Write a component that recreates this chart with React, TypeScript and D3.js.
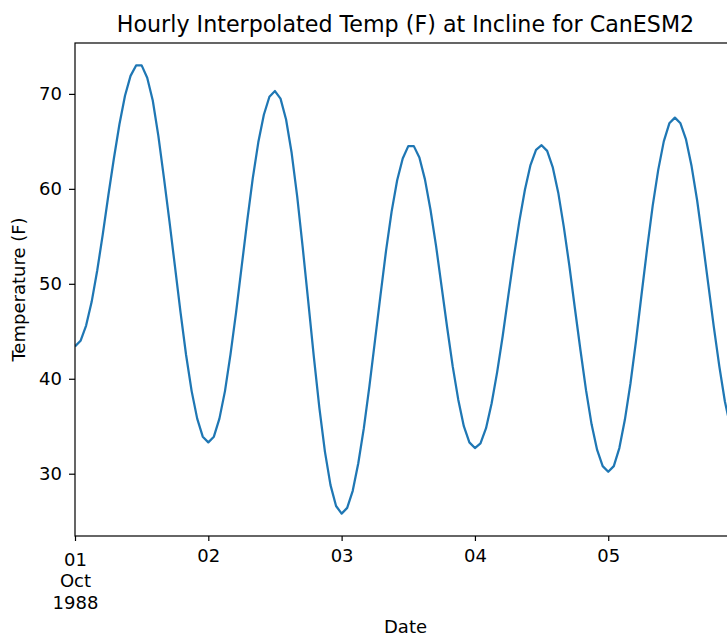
import * as d3 from "d3";
import React, { useEffect, useRef } from "react";

// hourly temps, 1988-10-01 00:00 onward (UTC)
const startTime = Date.UTC(1988, 9, 1, 0);
const hourlyTemp = [
  43.4, 44.0, 45.6, 48.1, 51.4, 55.2, 59.3, 63.2, 66.8, 69.8, 71.9, 73.0,
  73.0, 71.7, 69.3, 65.6, 61.2, 56.6, 51.8, 47.0, 42.5, 38.7, 35.8, 33.9,
  33.3, 33.9, 35.8, 38.7, 42.6, 47.0, 51.8, 56.6, 61.1, 64.9, 67.8, 69.7,
  70.3, 69.5, 67.3, 63.8, 59.2, 53.8, 48.1, 42.3, 36.9, 32.3, 28.8, 26.6,
  25.8, 26.4, 28.2, 31.1, 34.8, 39.2, 44.0, 48.8, 53.5, 57.6, 60.9, 63.2,
  64.5, 64.5, 63.3, 61.0, 57.8, 54.0, 49.7, 45.4, 41.3, 37.8, 35.0, 33.3,
  32.7, 33.2, 34.8, 37.4, 40.7, 44.5, 48.7, 52.8, 56.6, 59.9, 62.5, 64.1,
  64.6, 64.0, 62.3, 59.6, 56.0, 51.9, 47.4, 43.0, 38.8, 35.2, 32.5, 30.8,
  30.2, 30.8, 32.7, 35.7, 39.5, 44.0, 48.9, 53.7, 58.2, 62.0, 65.0, 66.9,
  67.5, 66.9, 65.2, 62.4, 58.8, 54.5, 50.0, 45.5, 41.3, 37.6, 34.9, 33.1,
];
const yTicks = [30, 40, 50, 60, 70];
const xTickDays = [1, 2, 3, 4, 5];
const xTickLabels = [["01", "Oct", "1988"], ["02"], ["03"], ["04"], ["05"]];

const title = "Hourly Interpolated Temp (F) at Incline for CanESM2";
const xLabel = "Date";
const yLabel = "Temperature (F)";

const W = 727, H = 636;
const FONT = "DejaVu Sans, sans-serif";

const App: React.FC = () => {
  const svgRef = useRef<SVGSVGElement>(null);

  useEffect(() => {
    if (!svgRef.current) return;
    const svg = d3.select(svgRef.current);
    svg.selectAll("*").remove();

    // axes box (right edge runs past the window like in the picture)
    const left = 75, right = 736, top = 43, bottom = 536;

    const times = hourlyTemp.map((_, i) => new Date(startTime + i * 3600 * 1000));
    const x = d3.scaleUtc()
      .domain(d3.extent(times) as [Date, Date])
      .range([left, right]);

    // matplotlib style 5% padding
    const [lo, hi] = d3.extent(hourlyTemp) as [number, number];
    const pad = (hi - lo) * 0.05;
    const y = d3.scaleLinear().domain([lo - pad, hi + pad]).range([bottom, top]);

    svg.append("defs").append("clipPath").attr("id", "plotclip")
      .append("rect")
      .attr("x", left).attr("y", top)
      .attr("width", right - left).attr("height", bottom - top);

    const line = d3.line<number>()
      .x((_, i) => x(times[i]))
      .y((d) => y(d));

    svg.append("path")
      .datum(hourlyTemp)
      .attr("clip-path", "url(#plotclip)")
      .attr("d", line)
      .attr("fill", "none")
      .attr("stroke", "#1f77b4")
      .attr("stroke-width", 2.25)
      .attr("stroke-linejoin", "round");

    // spines
    svg.append("rect")
      .attr("x", left).attr("y", top)
      .attr("width", right - left).attr("height", bottom - top)
      .attr("fill", "none")
      .attr("stroke", "#000")
      .attr("stroke-width", 1.2);

    // x axis
    const tickDates = xTickDays.map((d) => new Date(Date.UTC(1988, 9, d)));
    const gx = svg.append("g")
      .attr("transform", `translate(0,${bottom})`)
      .call(d3.axisBottom(x).tickValues(tickDates).tickSize(5).tickSizeOuter(0).tickFormat(() => ""));
    gx.select(".domain").remove();
    gx.selectAll(".tick line").attr("stroke", "#000").attr("stroke-width", 1.2);
    gx.selectAll(".tick text").remove();
    gx.selectAll<SVGGElement, Date>(".tick").each(function (_, i) {
      const lines = xTickLabels[i];
      const t = d3.select(this).append("text")
        .attr("text-anchor", "middle")
        .attr("fill", "#000")
        .style("font-family", FONT)
        .style("font-size", "18px");
      const firstY = lines.length > 1 ? 30 : 25.5;
      lines.forEach((s, k) => {
        t.append("tspan").attr("x", 0).attr("y", firstY + k * 21.3).text(s);
      });
    });

    // y axis
    const gy = svg.append("g")
      .attr("transform", `translate(${left},0)`)
      .call(d3.axisLeft(y).tickValues(yTicks).tickSize(6).tickSizeOuter(0).tickPadding(7));
    gy.select(".domain").remove();
    gy.selectAll(".tick line").attr("stroke", "#000").attr("stroke-width", 1.2);
    gy.selectAll(".tick text")
      .attr("fill", "#000")
      .style("font-family", FONT)
      .style("font-size", "18px");

    // labels
    svg.append("text")
      .attr("x", (left + right) / 2).attr("y", 32)
      .attr("text-anchor", "middle")
      .style("font-family", FONT).style("font-size", "22.2px")
      .text(title);

    svg.append("text")
      .attr("x", (left + right) / 2).attr("y", 632.5)
      .attr("text-anchor", "middle")
      .style("font-family", FONT).style("font-size", "18px")
      .text(xLabel);

    svg.append("text")
      .attr("transform", `translate(25,${(top + bottom) / 2}) rotate(-90)`)
      .attr("text-anchor", "middle")
      .style("font-family", FONT).style("font-size", "18px")
      .text(yLabel);
  }, []);

  return (
    <div style={{ position: "absolute", left: 0, top: 0 }}>
      <svg ref={svgRef} width={W} height={H} style={{ display: "block", background: "#fff" }} />
    </div>
  );
};

export default App;
